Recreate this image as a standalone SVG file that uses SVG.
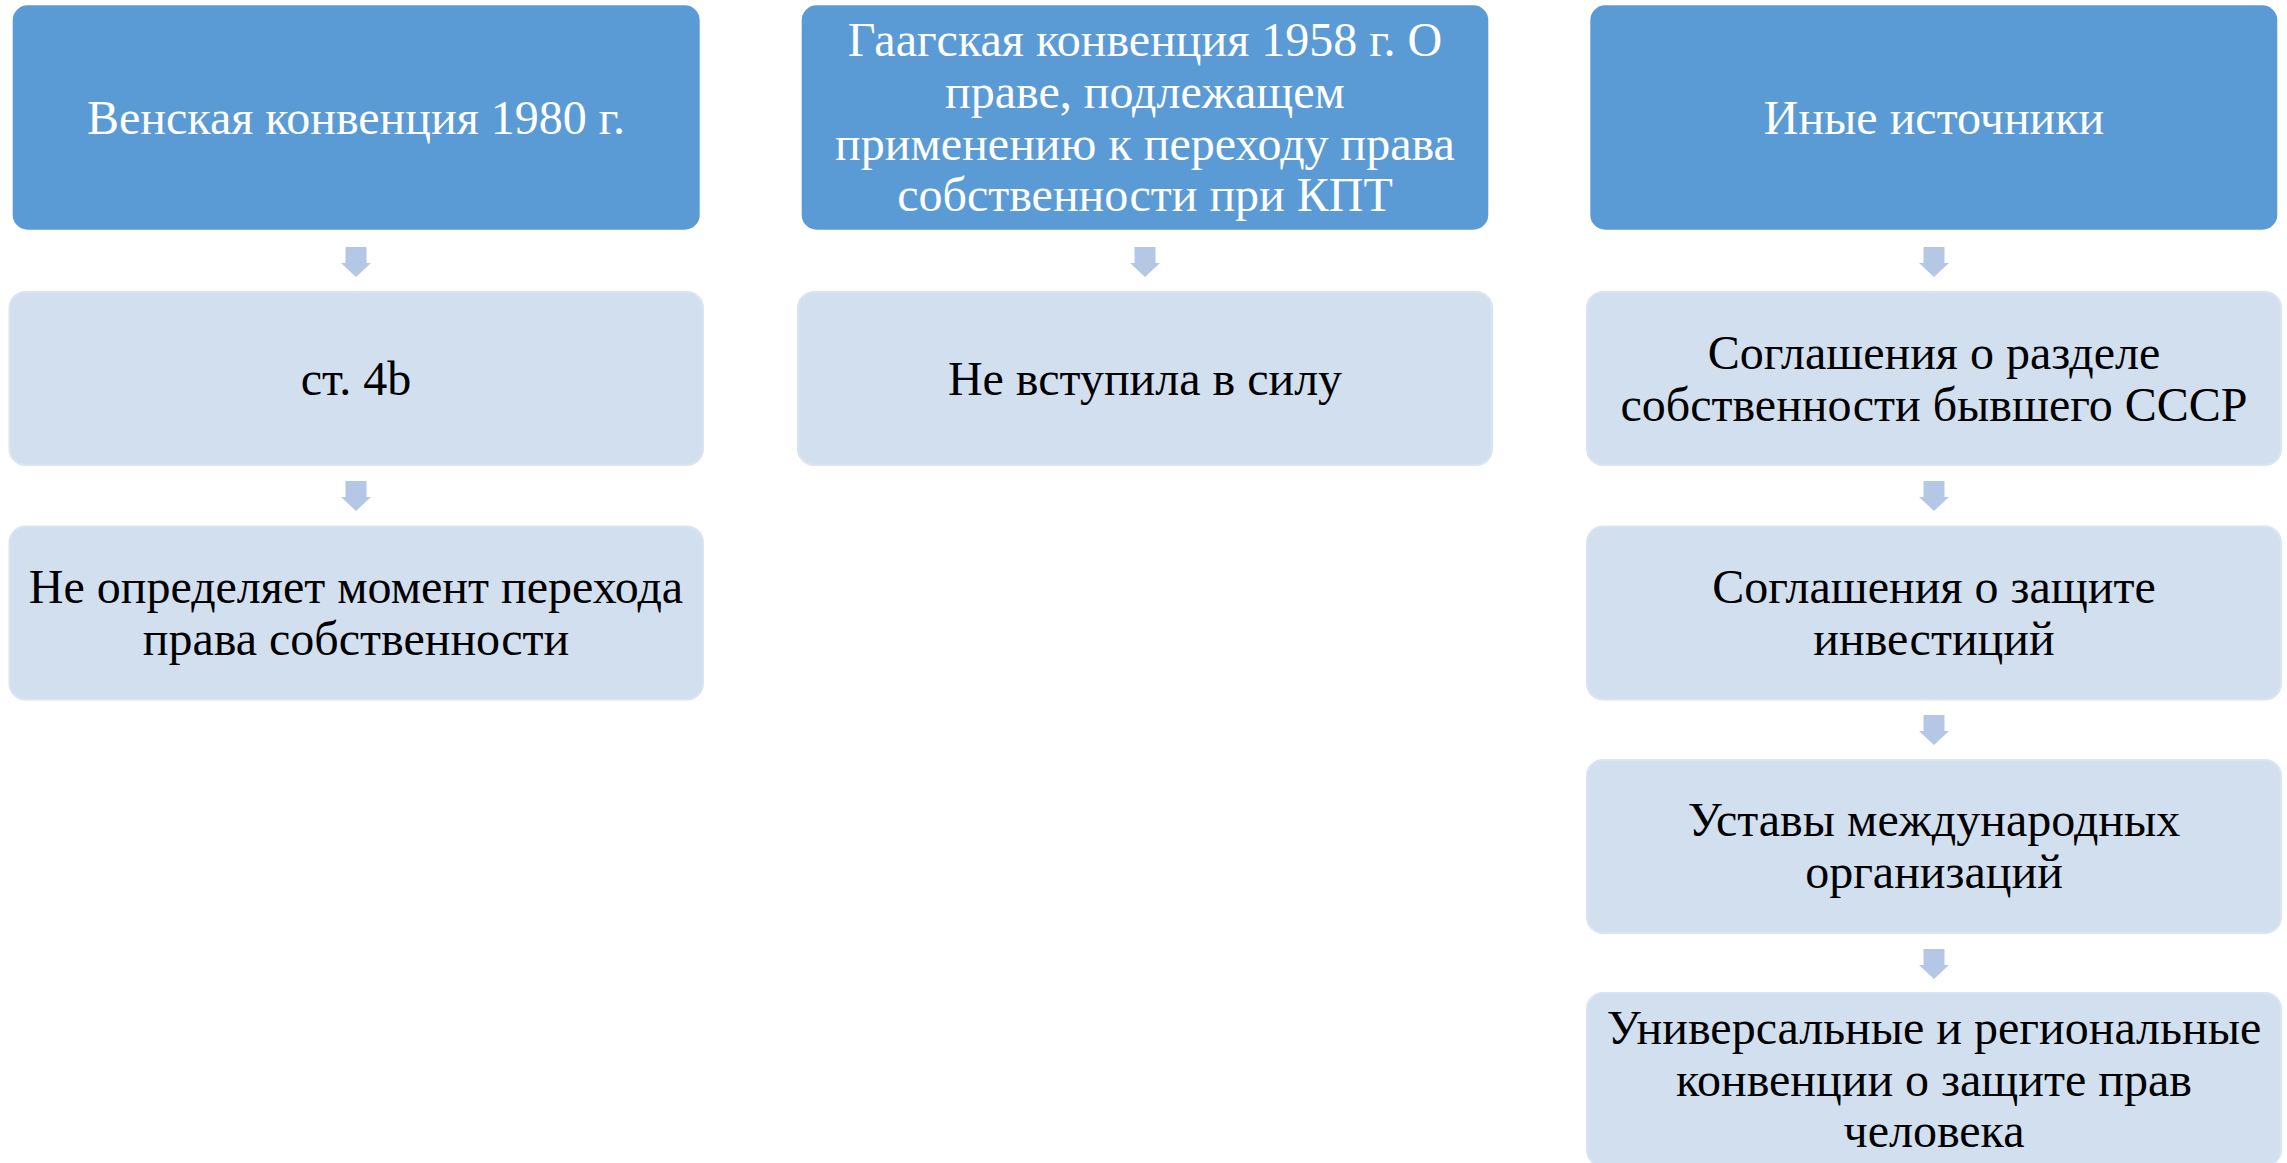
<svg xmlns="http://www.w3.org/2000/svg" width="2287" height="1163" viewBox="0 0 2287 1163">
<style>
.dark{fill:#5B9BD5;stroke:#FFFFFF;stroke-width:2}
.light{fill:#D2DFEF;stroke:#DAE4F2;stroke-width:2}
.arr{fill:#B4C8E6}
text{font-family:"Liberation Serif","Times New Roman",serif;font-size:48px;text-anchor:middle}
.wt{fill:#FFFFFF}
.bt{fill:#000000}
</style>
<rect width="2287" height="1163" fill="#FFFFFF"/>
<defs>
<polygon id="arrow" points="-10.5,0 10.5,0 10.5,16 15,16 0,30 -15,16 -10.5,16"/>
</defs>
<g id="connectors">
<use href="#arrow" class="arr" x="356" y="247"/>
<use href="#arrow" class="arr" x="356" y="481"/>
<use href="#arrow" class="arr" x="1145" y="247"/>
<use href="#arrow" class="arr" x="1934" y="247"/>
<use href="#arrow" class="arr" x="1934" y="481"/>
<use href="#arrow" class="arr" x="1934" y="715"/>
<use href="#arrow" class="arr" x="1934" y="949"/>
</g>
<g id="n1">
<rect class="dark" x="11.7" y="4.3" width="689" height="226.4" rx="16"/>
<text class="wt" x="356" y="134">Венская конвенция 1980 г.</text>
</g>
<g id="n2">
<rect class="light" x="9.5" y="292" width="693.5" height="173" rx="16"/>
<text class="bt" x="356" y="395">ст. 4b</text>
</g>
<g id="n3">
<rect class="light" x="9.5" y="526.5" width="693.5" height="173" rx="16"/>
<text class="bt" x="356" y="603">Не определяет момент перехода</text>
<text class="bt" x="356" y="655">права собственности</text>
</g>
<g id="n4">
<rect class="dark" x="800.7" y="4.3" width="688.6" height="226.4" rx="16"/>
<text class="wt" x="1145" y="56">Гаагская конвенция 1958 г. О</text>
<text class="wt" x="1145" y="108">праве, подлежащем</text>
<text class="wt" x="1145" y="160">применению к переходу права</text>
<text class="wt" x="1145" y="211">собственности при КПТ</text>
</g>
<g id="n5">
<rect class="light" x="798" y="292" width="694" height="173" rx="16"/>
<text class="bt" x="1145" y="395">Не вступила в силу</text>
</g>
<g id="n6">
<rect class="dark" x="1589.3" y="4.3" width="689" height="226.4" rx="16"/>
<text class="wt" x="1934" y="134">Иные источники</text>
</g>
<g id="n7">
<rect class="light" x="1587" y="292" width="694" height="173" rx="16"/>
<text class="bt" x="1934" y="369">Соглашения о разделе</text>
<text class="bt" x="1934" y="421">собственности бывшего СССР</text>
</g>
<g id="n8">
<rect class="light" x="1587" y="526.5" width="694" height="173" rx="16"/>
<text class="bt" x="1934" y="603">Соглашения о защите</text>
<text class="bt" x="1934" y="655">инвестиций</text>
</g>
<g id="n9">
<rect class="light" x="1587" y="760" width="694" height="173" rx="16"/>
<text class="bt" x="1934" y="836">Уставы международных</text>
<text class="bt" x="1934" y="888">организаций</text>
</g>
<g id="n10">
<rect class="light" x="1587" y="993" width="694" height="173" rx="16"/>
<text class="bt" x="1934" y="1044">Универсальные и региональные</text>
<text class="bt" x="1934" y="1096">конвенции о защите прав</text>
<text class="bt" x="1934" y="1147">человека</text>
</g>
</svg>
